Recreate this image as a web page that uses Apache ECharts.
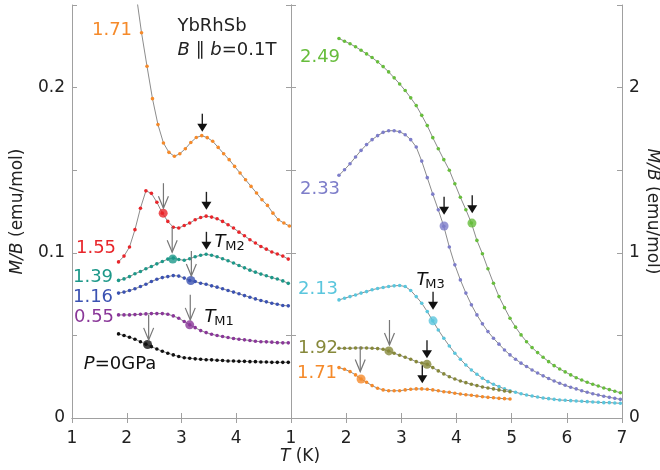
<!DOCTYPE html>
<html>
<head>
<meta charset="utf-8">
<script src="https://cdn.jsdelivr.net/npm/echarts@6.0.0/dist/echarts.min.js"></script>
<style>
  html, body { margin: 0; background: #fff; }
  #chart { width: 660px; height: 470px; }
</style>
</head>
<body>
<div id="chart"></div>
<script>
// temperatures (K)
const xLeft = [1.85, 1.95, 2.05, 2.15, 2.25, 2.35, 2.45, 2.55, 2.65, 2.75, 2.85, 2.95, 3.05, 3.15, 3.25, 3.35,
  3.45, 3.55, 3.65, 3.75, 3.85, 3.95, 4.05, 4.15, 4.25, 4.35, 4.45, 4.55, 4.65, 4.75, 4.85, 4.95];
const xOrangeL = [2.17, 2.27, 2.37, 2.47, 2.57, 2.67, 2.77, 2.87, 2.97, 3.07, 3.17, 3.27, 3.37, 3.47, 3.57,
  3.67, 3.77, 3.87, 3.97, 4.07, 4.17, 4.27, 4.37, 4.47, 4.57, 4.67, 4.77, 4.87, 4.97];
const xRight = [1.87, 1.97, 2.07, 2.17, 2.27, 2.37, 2.47, 2.57, 2.67, 2.77, 2.87, 2.97, 3.07, 3.17, 3.27, 3.37,
  3.47, 3.57, 3.67, 3.77, 3.87, 3.97, 4.07, 4.17, 4.27, 4.37, 4.47, 4.57, 4.67, 4.77, 4.87, 4.97, 5.07, 5.17,
  5.27, 5.37, 5.47, 5.57, 5.67, 5.77, 5.87, 5.97, 6.07, 6.17, 6.27, 6.37, 6.47, 6.57, 6.67, 6.77, 6.87, 6.97];

// left panel, M/B (emu/mol)
const yOrangeL = [0.257, 0.2332, 0.2129, 0.1933, 0.1776, 0.1665, 0.1608, 0.1584, 0.16, 0.163, 0.1668, 0.1698,
  0.1709, 0.1697, 0.1675, 0.1638, 0.16, 0.1564, 0.1523, 0.1483, 0.1442, 0.1402, 0.1362, 0.1321, 0.1287, 0.124,
  0.12, 0.118, 0.1162];
const yRed = [0.0945, 0.098, 0.1035, 0.114, 0.127, 0.1375, 0.136, 0.1306, 0.124, 0.119, 0.1155, 0.115, 0.1165,
  0.118, 0.12, 0.1214, 0.1222, 0.1216, 0.1206, 0.119, 0.117, 0.115, 0.1125, 0.1103, 0.1079, 0.1059, 0.1038,
  0.1022, 0.1005, 0.0993, 0.098, 0.0962];
const yTeal = [0.0833, 0.0842, 0.0856, 0.0873, 0.0887, 0.0903, 0.0917, 0.0933, 0.0947, 0.0962, 0.0968, 0.0959,
  0.0955, 0.0964, 0.0976, 0.0985, 0.0991, 0.0985, 0.0976, 0.0964, 0.0952, 0.0938, 0.0923, 0.0909, 0.0895,
  0.0883, 0.0871, 0.0861, 0.085, 0.0841, 0.083, 0.0815];
const yBlue = [0.0756, 0.0762, 0.0772, 0.0782, 0.0796, 0.081, 0.0826, 0.084, 0.085, 0.0856, 0.0862, 0.0859,
  0.0847, 0.0832, 0.0826, 0.0816, 0.081, 0.08, 0.0792, 0.0782, 0.0772, 0.0762, 0.0752, 0.0741, 0.0731, 0.0721,
  0.0711, 0.0703, 0.0695, 0.0689, 0.0681, 0.0679];
const yPurple = [0.0624, 0.0624, 0.0624, 0.0626, 0.0628, 0.063, 0.0632, 0.0632, 0.0632, 0.0628, 0.0618, 0.0604,
  0.0584, 0.0564, 0.0547, 0.0529, 0.0517, 0.0507, 0.0499, 0.0493, 0.0487, 0.0481, 0.0477, 0.0473, 0.0469,
  0.0465, 0.0462, 0.0461, 0.0459, 0.0456, 0.0455, 0.0455];
const yBlack = [0.0509, 0.0499, 0.0489, 0.0477, 0.0462, 0.0447, 0.0432, 0.0418, 0.0404, 0.0392, 0.0382, 0.0372,
  0.0365, 0.0362, 0.0358, 0.0356, 0.0353, 0.0352, 0.035, 0.0348, 0.0345, 0.0345, 0.0343, 0.0343, 0.0341,
  0.0341, 0.0339, 0.0339, 0.0337, 0.0337, 0.0337, 0.0337];

// right panel, M/B (emu/mol)
const yGreen = [2.297, 2.281, 2.265, 2.247, 2.226, 2.204, 2.182, 2.156, 2.127, 2.095, 2.059, 2.022, 1.982, 1.938,
  1.891, 1.832, 1.77, 1.697, 1.63, 1.564, 1.5, 1.418, 1.336, 1.261, 1.18, 1.075, 0.994, 0.903, 0.816, 0.735,
  0.668, 0.604, 0.55, 0.503, 0.462, 0.426, 0.396, 0.368, 0.341, 0.317, 0.297, 0.279, 0.261, 0.244, 0.23,
  0.216, 0.204, 0.194, 0.182, 0.172, 0.162, 0.153];
const yLavender = [1.469, 1.503, 1.539, 1.58, 1.62, 1.655, 1.685, 1.709, 1.729, 1.739, 1.739, 1.733, 1.715, 1.685,
  1.64, 1.555, 1.455, 1.355, 1.26, 1.16, 1.035, 0.927, 0.836, 0.756, 0.685, 0.624, 0.57, 0.523, 0.483, 0.447,
  0.412, 0.382, 0.356, 0.332, 0.312, 0.291, 0.272, 0.255, 0.239, 0.224, 0.21, 0.198, 0.186, 0.176, 0.165,
  0.156, 0.147, 0.139, 0.132, 0.125, 0.119, 0.113];
const yCyan = [0.715, 0.725, 0.735, 0.745, 0.756, 0.765, 0.776, 0.784, 0.79, 0.796, 0.8, 0.802, 0.796, 0.772,
  0.735, 0.695, 0.644, 0.588, 0.533, 0.483, 0.436, 0.392, 0.356, 0.321, 0.291, 0.265, 0.241, 0.22, 0.204, 0.19,
  0.176, 0.165, 0.156, 0.147, 0.139, 0.133, 0.127, 0.121, 0.117, 0.113, 0.109, 0.107, 0.105, 0.103, 0.101,
  0.099, 0.097, 0.095, 0.093, 0.093, 0.091, 0.089];
const yOlive = [0.422, 0.422, 0.422, 0.424, 0.424, 0.424, 0.422, 0.42, 0.416, 0.406, 0.392, 0.38, 0.368, 0.356,
  0.341, 0.333, 0.325, 0.305, 0.285, 0.267, 0.25, 0.236, 0.224, 0.214, 0.204, 0.196, 0.188, 0.182, 0.176,
  0.17, 0.164, 0.159];
const yOrangeR = [0.305, 0.295, 0.281, 0.261, 0.236, 0.216, 0.196, 0.18, 0.17, 0.165, 0.165, 0.165, 0.17, 0.174,
  0.176, 0.176, 0.174, 0.17, 0.165, 0.159, 0.156, 0.15, 0.145, 0.141, 0.138, 0.133, 0.129, 0.125, 0.123,
  0.119, 0.117, 0.115];

// transition points (big dots)
const redBig = [[2.665, 0.124]];
const tealBig = [[2.84, 0.0962]];
const blueBig = [[3.17, 0.0832]];
const purpleBig = [[3.15, 0.0564]];
const blackBig = [[2.38, 0.0445]];
const greenBig = [[4.28, 1.18]];
const lavenderBig = [[3.775, 1.162]];
const cyanBig = [[3.575, 0.588]];
const oliveBig = [[2.775, 0.406], [3.465, 0.325]];
const orangeRBig = [[2.27, 0.236]];

// arrow tips
const leftFilledArrows = [[3.38, 0.1733], [3.455, 0.126], [3.455, 0.1018]];
const leftOpenArrows = [[2.67, 0.127], [2.83, 0.1003], [3.18, 0.086], [3.16, 0.0594], [2.4, 0.0473]];
const rightFilledArrows = [[3.775, 1.23], [4.285, 1.24], [3.575, 0.655], [3.465, 0.362], [3.38, 0.21]];
const rightOpenArrows = [[2.785, 0.442], [2.255, 0.281]];

const FONT = "DejaVu Sans";
const GRAY = "#a0a0a0";
const C = {
  orange: "#f58a2a", red: "#e8262b", teal: "#1d9889", blue: "#3b52b2", purple: "#8a3799",
  black: "#111111", green: "#67bd3c", lavender: "#7d7dc9", cyan: "#5ac6dd", olive: "#86883a"
};

function pairs(xs, ys) {
  return ys.map((y, i) => [xs[i], y]);
}

function curve(xs, ys, color, xi, yi) {
  return {
    type: "line", xAxisIndex: xi, yAxisIndex: yi, data: pairs(xs, ys),
    symbol: "circle", symbolSize: 3.6, showAllSymbol: true,
    itemStyle: { color: color }, lineStyle: { color: "#8c8c8c", width: 1 },
    clip: true, silent: true, z: 2
  };
}

function dots(data, color, xi, yi) {
  return {
    type: "scatter", xAxisIndex: xi, yAxisIndex: yi, data: data,
    symbolSize: 9, itemStyle: { color: color }, silent: true, z: 4
  };
}

function arrows(data, open, xi, yi) {
  return {
    type: "custom", xAxisIndex: xi, yAxisIndex: yi, data: data, silent: true, z: 5,
    renderItem: function (params, api) {
      const p = api.coord([api.value(0), api.value(1)]);
      const x = p[0], y = p[1];
      if (open) {
        return {
          type: "group", children: [
            { type: "line", shape: { x1: x, y1: y - 25, x2: x, y2: y }, style: { stroke: "#777", lineWidth: 1.2 } },
            { type: "polyline", shape: { points: [[x - 5, y - 12], [x, y], [x + 5, y - 12]] },
              style: { stroke: "#777", lineWidth: 1.2, fill: null } }
          ]
        };
      }
      return {
        type: "group", children: [
          { type: "line", shape: { x1: x, y1: y - 18, x2: x, y2: y - 6 }, style: { stroke: "#222", lineWidth: 1.4 } },
          { type: "polygon", shape: { points: [[x - 5, y - 8], [x + 5, y - 8], [x, y]] }, style: { fill: "#111" } }
        ]
      };
    }
  };
}

function xAx(grid, pos, max, labels) {
  return {
    type: "value", gridIndex: grid, position: pos, min: 1, max: max, interval: 1,
    axisLine: { show: true, lineStyle: { color: GRAY, width: 1 } },
    axisTick: { show: true, inside: true, length: 5, lineStyle: { color: GRAY } },
    axisLabel: labels ? {
      show: true, margin: 12, fontSize: 17, fontFamily: FONT, color: "#222",
      formatter: v => (grid === 0 && v === 5) ? "" : String(v)
    } : { show: false },
    splitLine: { show: false }
  };
}

function yAx(grid, pos, max, interval, labels, extra) {
  return Object.assign({
    type: "value", gridIndex: grid, position: pos, min: 0, max: max, interval: interval,
    axisLine: { show: true, lineStyle: { color: GRAY, width: 1 } },
    axisTick: { show: true, inside: true, length: 5, lineStyle: { color: GRAY } },
    axisLabel: labels ? {
      show: true, margin: 7, fontSize: 17, fontFamily: FONT, color: "#222",
      formatter: labels
    } : { show: false },
    splitLine: { show: false }
  }, extra || {});
}

function txt(text, x, y, color, size, extra) {
  return {
    type: "text", x: x, y: y, silent: true, z: 10,
    style: Object.assign({
      text: text, fill: color, fontSize: size, fontFamily: FONT,
      align: "center", verticalAlign: "middle"
    }, extra || {})
  };
}

const italic = { i: { fontStyle: "italic", fontSize: 18, fontFamily: FONT } };
const nameStyle = {
  fontSize: 17, fontFamily: FONT, color: "#222",
  rich: { i: { fontStyle: "italic", fontSize: 17, fontFamily: FONT, color: "#222" } }
};

const chart = echarts.init(document.getElementById("chart"));
chart.setOption({
  animation: false,
  backgroundColor: "#fff",
  grid: [
    { left: 72, top: 5, width: 219, height: 413, outerBoundsMode: "none" },
    { left: 291, top: 5, width: 331, height: 413, outerBoundsMode: "none" }
  ],
  xAxis: [
    xAx(0, "bottom", 5, true),
    xAx(0, "top", 5, false),
    xAx(1, "bottom", 7, true),
    xAx(1, "top", 7, false)
  ],
  yAxis: [
    yAx(0, "left", 0.25, 0.05, v => {
      const t = Math.round(v * 100);
      return t % 10 === 0 ? String(t / 100) : "";
    }, {
      name: "{i|M/B} (emu/mol)", nameLocation: "middle", nameGap: 46, nameRotate: 90,
      nameMoveOverlap: false, nameTextStyle: nameStyle
    }),
    yAx(0, "right", 0.25, 0.05, null),
    yAx(1, "left", 2.5, 0.5, null),
    yAx(1, "right", 2.5, 0.5, v => {
      const t = Math.round(v * 10);
      return t % 10 === 0 ? String(t / 10) : "";
    }, {
      name: "{i|M/B} (emu/mol)", nameLocation: "middle", nameGap: 22, nameRotate: -90,
      nameMoveOverlap: false, nameTextStyle: nameStyle
    })
  ],
  series: [
    curve(xOrangeL, yOrangeL, C.orange, 0, 0),
    curve(xLeft, yRed, C.red, 0, 0),
    curve(xLeft, yTeal, C.teal, 0, 0),
    curve(xLeft, yBlue, C.blue, 0, 0),
    curve(xLeft, yPurple, C.purple, 0, 0),
    curve(xLeft, yBlack, C.black, 0, 0),
    curve(xRight, yGreen, C.green, 2, 3),
    curve(xRight, yLavender, C.lavender, 2, 3),
    curve(xRight, yCyan, C.cyan, 2, 3),
    curve(xRight, yOlive, C.olive, 2, 3),
    curve(xRight, yOrangeR, C.orange, 2, 3),
    dots(redBig, C.red, 0, 0),
    dots(tealBig, C.teal, 0, 0),
    dots(blueBig, C.blue, 0, 0),
    dots(purpleBig, C.purple, 0, 0),
    dots(blackBig, C.black, 0, 0),
    dots(greenBig, C.green, 2, 3),
    dots(lavenderBig, C.lavender, 2, 3),
    dots(cyanBig, C.cyan, 2, 3),
    dots(oliveBig, C.olive, 2, 3),
    dots(orangeRBig, C.orange, 2, 3),
    arrows(leftFilledArrows, false, 0, 0),
    arrows(leftOpenArrows, true, 0, 0),
    arrows(rightFilledArrows, false, 2, 3),
    arrows(rightOpenArrows, true, 2, 3)
  ],
  graphic: [
    // left panel
    txt("1.71", 112, 30, C.orange, 18),
    txt("YbRhSb", 212, 26, "#222", 18),
    txt("{i|B} ∥ {i|b}=0.1T", 227, 50, "#222", 18, { rich: italic }),
    txt("1.55", 96, 248, C.red, 18),
    txt("1.39", 93, 277, C.teal, 18),
    txt("1.16", 93, 297, C.blue, 18),
    txt("0.55", 94, 317, C.purple, 18),
    txt("{i|P}=0GPa", 120, 364, "#111", 18, { rich: italic }),
    txt("T", 220, 242, "#111", 18, { fontStyle: "italic" }),
    txt("M2", 235, 247, "#111", 13),
    txt("T", 210, 317, "#111", 18, { fontStyle: "italic" }),
    txt("M1", 224, 322, "#111", 13),
    // right panel
    txt("2.49", 320, 57, C.green, 18),
    txt("2.33", 320, 189, C.lavender, 18),
    txt("2.13", 318, 289, C.cyan, 18),
    txt("1.92", 318, 348, C.olive, 18),
    txt("1.71", 317, 373, C.orange, 18),
    txt("T", 422, 280, "#111", 18, { fontStyle: "italic" }),
    txt("M3", 435, 285, "#111", 13),
    // bottom axis title
    txt("{i|T} (K)", 300, 457, "#222", 17, { rich: { i: { fontStyle: "italic", fontSize: 17, fontFamily: FONT } } })
  ]
});
</script>
</body>
</html>
